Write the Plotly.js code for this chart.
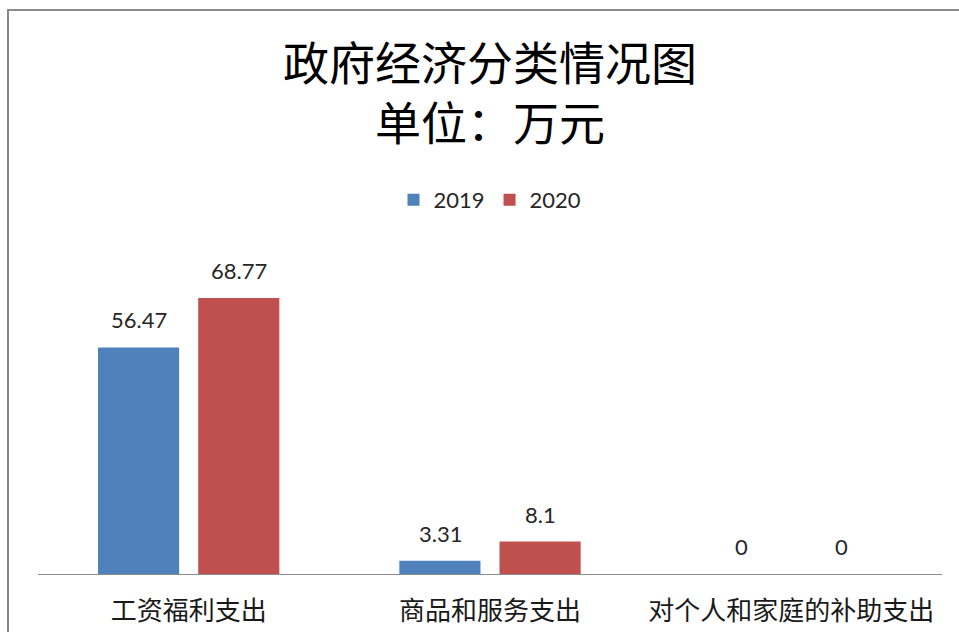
<!DOCTYPE html>
<html>
<head>
<meta charset="utf-8">
<script src="https://cdn.plot.ly/plotly-3.0.1.min.js"></script>
<style>
  html, body { margin: 0; padding: 0; background: #fff; overflow: hidden; }
  #wrap { position: relative; width: 959px; height: 632px; }
  #chart { position: absolute; left: 0; top: 0; width: 959px; height: 632px; }
  #frame { position: absolute; left: 7px; top: 9px; width: 980px; height: 700px;
           border: 2px solid #8a8a8a; pointer-events: none; box-sizing: border-box; }
</style>
</head>
<body>
<div id="wrap">
  <div id="chart"></div>
  <div id="frame"></div>
</div>
<script>
const categories = ["工资福利支出", "商品和服务支出", "对个人和家庭的补助支出"];
const seriesNames = ["2019", "2020"];
const values2019 = [56.47, 3.31, 0];
const values2020 = [68.77, 8.1, 0];
const seriesColors = ["#4F81BD", "#C0504D"];
const titleLines = ["政府经济分类情况图", "单位：万元"];

const numFont = "Lato, 'Open Sans', sans-serif";
const cjkFont = "'Noto Sans CJK SC', sans-serif";

const seriesValues = [values2019, values2020];
const traces = seriesNames.map((name, i) => ({
  type: "bar",
  name: name,
  x: categories,
  y: seriesValues[i],
  marker: { color: seriesColors[i] },
  hoverinfo: "skip"
}));

const shifts = [-50, 50];
const annotations = [];
seriesValues.forEach((vals, i) => {
  vals.forEach((v, j) => {
    annotations.push({
      x: categories[j], y: v, xref: "x", yref: "y",
      text: String(v), showarrow: false,
      xanchor: "center", yanchor: "bottom",
      xshift: shifts[i], yshift: 12,
      font: { family: numFont, size: 22, color: "#262626" }
    });
  });
});

const layout = {
  width: 959, height: 632,
  margin: { l: 38, r: 17, t: 253, b: 58, autoexpand: false },
  paper_bgcolor: "#ffffff", plot_bgcolor: "#ffffff",
  barmode: "group", bargap: 0.335, bargroupgap: 0.19,
  title: {
    text: titleLines.join("<br>"),
    font: { family: cjkFont, size: 46, color: "#000000" },
    xref: "paper", x: 0.5, xanchor: "center",
    yref: "container", y: 1 - 80 / 632, yanchor: "top"
  },
  showlegend: true,
  legend: {
    orientation: "h", xref: "paper", x: 0.5, xanchor: "center",
    yref: "paper", y: (574 - 200) / 321, yanchor: "middle",
    font: { family: numFont, size: 22, color: "#262626" },
    itemwidth: 30, traceorder: "normal"
  },
  xaxis: {
    type: "category",
    showline: true, linecolor: "#8c8c8c", linewidth: 1,
    showgrid: false, zeroline: false, ticks: "",
    ticklabelstandoff: 14,
    automargin: false,
    tickfont: { family: cjkFont, size: 26, color: "#1a1a1a" },
    fixedrange: true
  },
  yaxis: {
    range: [0, 80], visible: false, showgrid: false, zeroline: false,
    fixedrange: true
  },
  annotations: annotations
};

Plotly.newPlot("chart", traces, layout, { displayModeBar: false, staticPlot: true });
</script>
</body>
</html>
